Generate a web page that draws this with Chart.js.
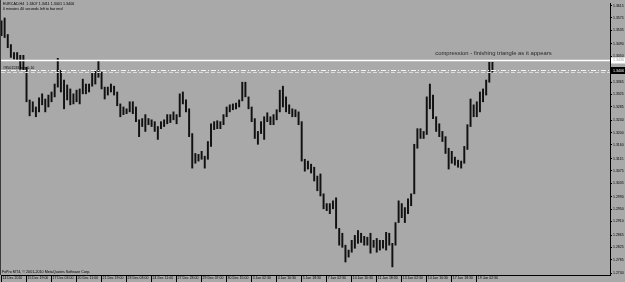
<!DOCTYPE html>
<html><head><meta charset="utf-8">
<script src="https://cdn.jsdelivr.net/npm/chart.js@4"></script>
<style>html,body{margin:0;padding:0;background:#A9A9A9;}canvas{display:block;}</style>
</head><body>
<canvas id="c" width="625" height="282"></canvas>
<script>
const symbolTitle = "EURCAD,H4  1.3407 1.3411 1.3401 1.3406";
const subTitle = "0 minutes 40 seconds left to bar end";
const copyright = "FxPro MT4, \u00A9 2001-2010 MetaQuotes Software Corp.";
const noteText = "compression - finishing triangle as it appears";
const orderText = "#9501133 buy 0.10";

const xTickLabels = ["14 Dec 2010","15 Dec 19:00","17 Dec 03:00","20 Dec 11:00","21 Dec 19:00","23 Dec 03:00","24 Dec 11:00","27 Dec 23:00","29 Dec 07:00","30 Dec 15:00","3 Jan 02:30","4 Jan 10:30","5 Jan 18:30","7 Jan 02:30","10 Jan 10:30","11 Jan 18:30","13 Jan 02:30","14 Jan 10:30","17 Jan 18:30","19 Jan 02:30"];
const yTickValues = [1.3615,1.3575,1.3535,1.3490,1.3450,1.3407,1.3365,1.3325,1.3285,1.3240,1.3200,1.3160,1.3115,1.3075,1.3035,1.2990,1.2950,1.2910,1.2865,1.2825,1.2785,1.2740];

const highs = [
1.3566,1.3575,1.3521,1.3488,1.3462,1.3462,1.3453,1.3453,1.3414,1.3307,
1.3301,1.3284,1.3314,1.3327,1.3310,1.3323,1.3333,1.3359,1.3443,1.3404,
1.3372,1.3356,1.3343,1.3327,1.3339,1.3343,1.3375,1.3359,1.3359,1.3398,
1.3404,1.3436,1.3398,1.3349,1.3349,1.3359,1.3352,1.3333,1.3294,1.3284,
1.3278,1.3301,1.3301,1.3284,1.3242,1.3246,1.3259,1.3246,1.3242,1.3236,
1.3220,1.3236,1.3242,1.3259,1.3259,1.3268,1.3259,1.3327,1.3333,1.3307,
1.3278,1.3197,1.3132,1.3129,1.3139,1.3123,1.3171,1.3229,1.3236,1.3239,
1.3236,1.3259,1.3284,1.3291,1.3294,1.3297,1.3307,1.3365,1.3365,1.3317,
1.3284,1.3246,1.3204,1.3236,1.3252,1.3265,1.3252,1.3259,1.3275,1.3339,
1.3352,1.3317,1.3291,1.3278,1.3275,1.3268,1.3236,1.3113,1.3107,1.3097,
1.3087,1.3058,1.3065,1.3000,1.2968,1.2968,1.2977,1.2987,1.2887,1.2871,
1.2832,1.2816,1.2848,1.2864,1.2880,1.2871,1.2861,1.2858,1.2871,1.2848,
1.2854,1.2848,1.2848,1.2874,1.2871,1.2838,1.2906,1.2977,1.2968,1.2955,
1.2984,1.3000,1.3162,1.3213,1.3213,1.3204,1.3317,1.3359,1.3323,1.3252,
1.3229,1.3204,1.3187,1.3149,1.3139,1.3120,1.3110,1.3107,1.3155,1.3226,
1.3310,1.3291,1.3301,1.3333,1.3343,1.3372,1.3430,1.3430];
const lows = [
1.3517,1.3511,1.3478,1.3446,1.3440,1.3436,1.3407,1.3404,1.3301,1.3255,
1.3268,1.3252,1.3268,1.3291,1.3268,1.3284,1.3301,1.3317,1.3349,1.3333,
1.3278,1.3307,1.3291,1.3294,1.3301,1.3294,1.3327,1.3327,1.3333,1.3352,
1.3359,1.3381,1.3343,1.3310,1.3323,1.3333,1.3323,1.3288,1.3252,1.3259,
1.3262,1.3268,1.3262,1.3236,1.3187,1.3220,1.3204,1.3226,1.3220,1.3204,
1.3178,1.3213,1.3220,1.3229,1.3233,1.3242,1.3229,1.3252,1.3294,1.3268,
1.3187,1.3084,1.3100,1.3107,1.3113,1.3084,1.3113,1.3155,1.3210,1.3213,
1.3213,1.3226,1.3252,1.3268,1.3275,1.3278,1.3284,1.3304,1.3317,1.3278,
1.3236,1.3181,1.3162,1.3197,1.3178,1.3236,1.3226,1.3226,1.3242,1.3268,
1.3284,1.3268,1.3262,1.3252,1.3252,1.3226,1.3107,1.3074,1.3081,1.3068,
1.3042,1.3010,1.2993,1.2951,1.2945,1.2935,1.2951,1.2887,1.2832,1.2825,
1.2777,1.2793,1.2809,1.2822,1.2838,1.2841,1.2832,1.2832,1.2806,1.2825,
1.2809,1.2816,1.2822,1.2816,1.2832,1.2761,1.2832,1.2906,1.2922,1.2906,
1.2935,1.2961,1.3000,1.3149,1.3181,1.3181,1.3194,1.3278,1.3246,1.3204,
1.3187,1.3171,1.3132,1.3081,1.3100,1.3094,1.3087,1.3084,1.3100,1.3145,
1.3220,1.3252,1.3252,1.3268,1.3301,1.3323,1.3365,1.3398];

const levelPrice = 1.3436;   // solid horizontal line
const bidPrice = 1.3406;     // bid line
const orderPrice = 1.3398;   // order line
const notePrice = 1.3459;
const noteBar = 138.7;
const barsPerLabel = 8;

const FONT = '"Liberation Sans", Arial, sans-serif';
const BG = '#A9A9A9';

const bgPlugin = {
  id: 'bg',
  beforeDraw(chart) {
    const c = chart.ctx; c.save(); c.fillStyle = BG; c.fillRect(0, 0, chart.width, chart.height); c.restore();
  }
};

const overlay = {
  id: 'overlay',
  afterDraw(chart) {
    const { ctx, chartArea: a, scales: { x, y } } = chart;
    ctx.save();
    ctx.strokeStyle = '#3a3a3a'; ctx.lineWidth = 1;
    ctx.beginPath(); ctx.moveTo(0.5, 0); ctx.lineTo(0.5, a.bottom); ctx.stroke();
    ctx.strokeStyle = '#000';
    x.ticks.forEach(t => {
      const px = Math.round(x.getPixelForValue(t.value)) - 0.5;
      ctx.beginPath(); ctx.moveTo(px, a.bottom); ctx.lineTo(px, chart.height); ctx.stroke();
    });
    const yl = y.getPixelForValue(levelPrice);
    ctx.strokeStyle = '#ffffff'; ctx.lineWidth = 1.6;
    ctx.beginPath(); ctx.moveTo(a.left, yl); ctx.lineTo(a.right, yl); ctx.stroke();
    const yb = Math.round(y.getPixelForValue(bidPrice)) + 0.5;
    ctx.lineWidth = 1; ctx.strokeStyle = '#f4f4f4'; ctx.setLineDash([5, 2, 1, 2]);
    ctx.beginPath(); ctx.moveTo(a.left, yb); ctx.lineTo(a.right, yb); ctx.stroke();
    const yo = Math.round(y.getPixelForValue(orderPrice)) + 0.5;
    ctx.strokeStyle = '#dcdcdc'; ctx.setLineDash([4, 2]);
    ctx.beginPath(); ctx.moveTo(a.left, yo); ctx.lineTo(a.right, yo); ctx.stroke();
    ctx.setLineDash([]);
    ctx.fillStyle = '#000'; ctx.textBaseline = 'middle'; ctx.textAlign = 'left';
    ctx.font = '3.7px ' + FONT;
    ctx.fillText(symbolTitle, 3, 4);
    ctx.fillText(subTitle, 3, 8.5);
    ctx.fillText(copyright, 2, 272);
    ctx.fillText(orderText, 3, yb - 2.5);
    ctx.fillStyle = '#2a2a2a';
    ctx.font = '5.9px ' + FONT;
    ctx.fillText(noteText, x.getPixelForValue(noteBar), y.getPixelForValue(notePrice));
    ctx.font = '3.6px ' + FONT;
    ctx.fillStyle = '#ffffff';
    ctx.fillRect(a.right + 1, yl - 3, chart.width - a.right - 1, 6);
    ctx.fillStyle = '#9a9a9a';
    ctx.fillText(levelPrice.toFixed(4), a.right + 3, yl);
    ctx.fillStyle = '#000';
    ctx.fillRect(a.right + 1, yb - 3.5, chart.width - a.right - 1, 7);
    ctx.fillStyle = '#fff';
    ctx.fillText(bidPrice.toFixed(4), a.right + 3, yb);
    ctx.restore();
  }
};

const barData = highs.map((h, i) => ({ x: i, y: [lows[i], h] }));

new Chart(document.getElementById('c'), {
  type: 'bar',
  data: { datasets: [{ data: barData, backgroundColor: '#111111', borderWidth: 0, barThickness: 1.3, grouped: false }] },
  options: {
    responsive: false, animation: false, devicePixelRatio: 1,
    layout: { padding: { left: 1, top: 0, right: 0, bottom: 0 } },
    plugins: { legend: { display: false }, tooltip: { enabled: false } },
    scales: {
      x: {
        type: 'linear', offset: false, min: -0.16, max: 194.6,
        grid: { display: true, drawOnChartArea: false, drawTicks: false, offset: false },
        border: { display: true, color: '#000', width: 1 },
        afterBuildTicks: s => { s.ticks = xTickLabels.map((l, i) => ({ value: i * barsPerLabel })); },
        afterFit: s => { s.height = 7; },
        ticks: {
          autoSkip: false, maxRotation: 0, minRotation: 0, align: 'start', padding: 1.2,
          color: '#000', font: { size: 3.5, family: FONT },
          callback: (v, i) => ' ' + xTickLabels[i]
        }
      },
      y: {
        position: 'right', min: 1.27345, max: 1.36237,
        grid: { drawOnChartArea: false, drawTicks: true, tickLength: 2, color: '#000' },
        border: { display: true, color: '#000', width: 1 },
        afterBuildTicks: s => { s.ticks = yTickValues.map(v => ({ value: v })); },
        afterFit: s => { s.width = 15; },
        ticks: {
          autoSkip: false, padding: 1, color: '#000', font: { size: 3.5, family: FONT },
          callback: v => Number(v).toFixed(4)
        }
      }
    }
  },
  plugins: [bgPlugin, overlay]
});
</script>
</body></html>
